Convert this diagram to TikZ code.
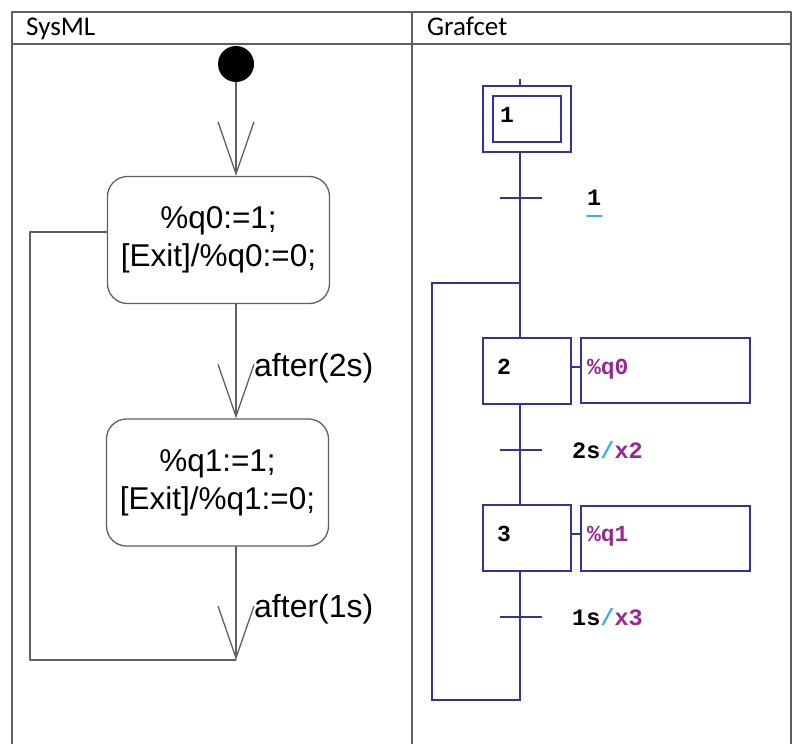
\documentclass[tikz,border=0pt]{standalone}
\usepackage{fontspec}
\setmainfont{Liberation Sans}
\newfontfamily\hdrfont{Carlito}
\newfontfamily\grafont{Liberation Mono}
\usetikzlibrary{arrows.meta}

\definecolor{gridgray}{RGB}{95,95,95}
\definecolor{grafblue}{RGB}{52,52,150}
\definecolor{actpurple}{RGB}{150,40,145}
\definecolor{slashblue}{RGB}{60,170,240}

\tikzset{
  tabline/.style={draw=gridgray,line width=1.3pt},
  hdr/.style={font=\hdrfont\fontsize{27}{30}\selectfont,anchor=base west,inner sep=0pt},
  umlstate/.style={draw=gridgray,line width=1.3pt,rounded corners=20pt,
    minimum width=222pt,minimum height=127pt,align=center,inner sep=0pt,
    font=\fontsize{31.5}{38}\selectfont},
  umlflow/.style={draw=gridgray,line width=1.3pt,
    -{Straight Barb[length=52pt,width=36pt,line width=1.3pt]}},
  umlguard/.style={font=\fontsize{32}{36}\selectfont,anchor=west,inner sep=0pt},
  grafline/.style={draw=grafblue,line width=2pt,line join=miter,line cap=butt},
  grafstep/.style={grafline,minimum width=88pt,minimum height=66pt,
    inner xsep=14pt,text width=60pt,align=left,text depth=8pt,
    font=\grafont\bfseries\fontsize{23}{25}\selectfont},
  grafinit/.style={grafline,double=white,double distance=7.5pt,
    minimum width=78pt,minimum height=56pt,outer sep=5.75pt,
    inner xsep=12pt,text width=54pt,align=left,text depth=8pt,
    font=\grafont\bfseries\fontsize{23}{25}\selectfont},
  grafact/.style={grafline,minimum width=169pt,minimum height=65pt,
    inner xsep=6pt,text width=157pt,align=left,text=actpurple,text depth=8pt,
    font=\grafont\bfseries\fontsize{23}{25}\selectfont},
  grafrecep/.style={anchor=west,inner sep=0pt,
    font=\grafont\bfseries\fontsize{23.5}{25}\selectfont},
}

\begin{document}
\begin{tikzpicture}[x=1pt,y=-1pt,line cap=round,line join=round]
  \useasboundingbox (0,0) rectangle (798,744);

  % table
  \draw[tabline] (12,744) -- (12,12) -- (791,12) -- (791,744);
  \draw[tabline] (12,44) -- (791,44);
  \draw[tabline] (412,12) -- (412,744);
  \node[hdr] (hsys) at (26,35) {SysML};
  \node[hdr] (hgraf) at (427,35) {Grafcet};

  % SysML
  \node[circle,fill=black,minimum size=36pt,inner sep=0pt] (init) at (236,64) {};
  \node[umlstate] (sA) at (218.5,240) {\%q0:=1;\\{[Exit]/\%q0:=0;}};
  \node[umlstate] (sB) at (217.5,482.5) {\%q1:=1;\\{[Exit]/\%q1:=0;}};
  \coordinate (fin) at (236,660);

  \draw[umlflow] (init) -- (init |- sA.north);
  \draw[umlflow] (init |- sA.south) -- (init |- sB.north);
  \draw[umlflow] (init |- sB.south) -- (fin);
  \draw[tabline] ([yshift=8pt]sA.west) -- ++(-77,0) |- (fin);

  \node[umlguard] (g1) at (254,368) {after(2s)};
  \node[umlguard] (g2) at (254,609) {after(1s)};

  % Grafcet
  \coordinate (top) at (520,79);
  \node[grafinit] (x1) at (527,119) {1};
  \node[grafstep] (x2) at (527,370.5) {2};
  \node[grafstep] (x3) at (527,538) {3};
  \node[grafact] (a2) at (665.5,370.5) {\%q0};
  \node[grafact] (a3) at (665.5,538) {\%q1};
  \coordinate (t1) at (520,198);
  \coordinate (t2) at (520,450);
  \coordinate (t3) at (520,617);
  \coordinate (merge) at (520,283);

  \draw[grafline] (top) -- (x1.north -| top);
  \draw[grafline] (x1.south -| top) -- (x2.north -| top);
  \draw[grafline] (x2.south -| top) -- (x3.north -| top);
  \draw[grafline] (x3.south -| top) |- (432,700) |- (merge);
  \draw[grafline] ([yshift=4pt]x2.east) -- ([yshift=4pt]a2.west);
  \draw[grafline] ([yshift=4pt]x3.east) -- ([yshift=4pt]a3.west);
  \foreach \t in {t1,t2,t3}
    \draw[grafline] ([xshift=-20pt]\t) -- ([xshift=22pt]\t);

  \node[grafrecep] (r1) at (587,198) {1};
  \draw[slashblue,line width=2pt] ([yshift=-10pt]r1.south west) -- ([yshift=-10pt]r1.south east);
  \node[grafrecep] (r2) at (572,450) {2s\textcolor{slashblue}{/}\textcolor{actpurple}{x2}};
  \node[grafrecep] (r3) at (572,617) {1s\textcolor{slashblue}{/}\textcolor{actpurple}{x3}};
\end{tikzpicture}
\end{document}
